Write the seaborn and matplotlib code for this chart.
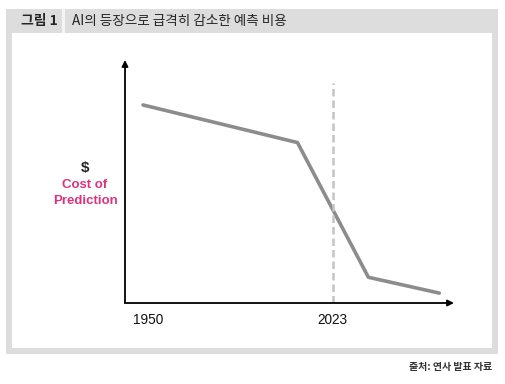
import matplotlib
matplotlib.use("Agg")
import matplotlib.pyplot as plt
import matplotlib.patches as mpatches
import seaborn as sns
import pandas as pd

# 개략적인 예측 비용 추세
years = [1948, 2009, 2037, 2065]
cost = [100, 81, 13, 5]
tick_years = [1950, 2023]
tick_labels = ["1950", "2023"]
marker_year = 2023

fig_label = "그림 1"
title = "AI의 등장으로 급격히 감소한 예측 비용"
source = "출처: 연사 발표 자료"

sns.set_theme(style="white")
plt.rcParams['font.family'] = ['Liberation Sans', 'Noto Sans CJK KR', 'DejaVu Sans']

W, H = 505, 384
fig = plt.figure(figsize=(W / 100, H / 100), dpi=100)
fig.patch.set_facecolor("white")


def px_rect(x0, y0, x1, y1, color):
    # 픽셀 좌표(위에서 아래로)로 배경 사각형 그리기
    fig.patches.append(mpatches.Rectangle((x0 / W, 1 - y1 / H), (x1 - x0) / W, (y1 - y0) / H,
                                          transform=fig.transFigure, facecolor=color,
                                          edgecolor="none", zorder=-5))


gray = "#dddddd"
px_rect(6, 9, 498, 354, gray)
px_rect(62, 9, 65, 33, "#f4f4f4")
px_rect(12, 33, 492, 348, "white")

fig.text(21 / W, 1 - 21 / H, fig_label, fontsize=10, fontweight="bold",
         family=['Noto Sans CJK KR'], va="center", ha="left")
fig.text(72 / W, 1 - 21 / H, title, fontsize=9.8,
         family=['Noto Sans CJK KR'], va="center", ha="left")
fig.text(492 / W, 1 - 367 / H, source, fontsize=7.2, fontweight="bold",
         family=['Noto Sans CJK KR'], va="center", ha="right", color="#333333")

# 축 영역: 픽셀 좌표 기준
left, right, top, bottom = 125, 454, 60, 303
ax = fig.add_axes([left / W, 1 - bottom / H, (right - left) / W, (bottom - top) / H])
ax.set_facecolor("none")
ax.set_zorder(2)

df = pd.DataFrame({"year": years, "cost": cost})
sns.lineplot(data=df, x="year", y="cost", ax=ax, color="#8c8c8c", linewidth=2.6)

ax.set_xlim(1940.9, 2070.8)
ax.set_ylim(0, 122.7)
ax.axvline(marker_year, ymin=0, ymax=(bottom - 83) / (bottom - top),
           color="#c4c4c4", linestyle=(0, (3, 1.6)), linewidth=1.8)

for s in ax.spines.values():
    s.set_visible(False)

arrow = dict(arrowstyle="-|>", color="black", lw=1.3, mutation_scale=9, shrinkA=0, shrinkB=0)
ax.annotate("", xy=(1, 0), xytext=(0, 0), xycoords="axes fraction", arrowprops=arrow)
ax.annotate("", xy=(0, 1), xytext=(0, 0), xycoords="axes fraction", arrowprops=arrow)

ax.set_xticks(tick_years)
ax.set_xticklabels(tick_labels, fontsize=9.8, color="#111111")
ax.tick_params(axis="x", length=0, pad=7)
ax.set_yticks([])
ax.set_xlabel("")
ax.set_ylabel("")

fig.text(85 / W, 1 - 168 / H, "$", fontsize=11, fontweight="bold", ha="center", va="center")
fig.text(85 / W, 1 - 185 / H, "Cost of", fontsize=9.5, fontweight="bold", color="#e0327c",
         ha="center", va="center")
fig.text(85 / W, 1 - 201 / H, "Prediction", fontsize=9.5, fontweight="bold", color="#e0327c",
         ha="center", va="center")

fig.savefig("out.png", dpi=100)
